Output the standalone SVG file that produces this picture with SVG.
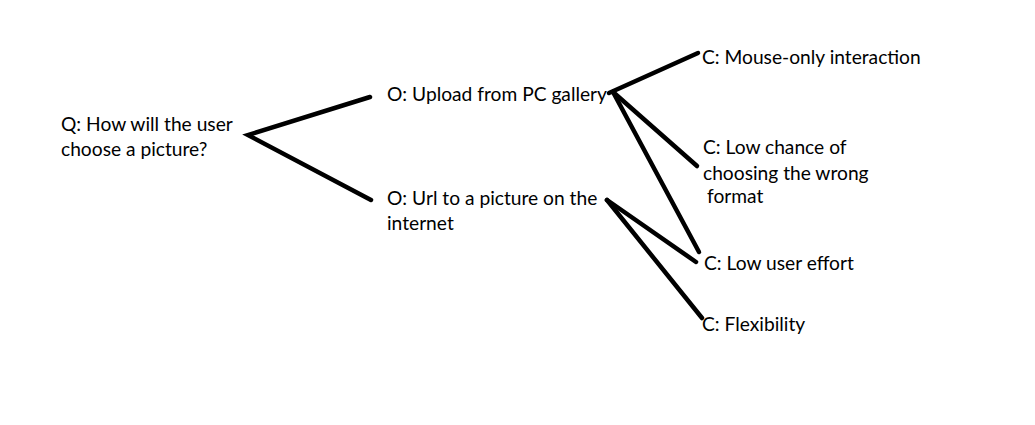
<svg xmlns="http://www.w3.org/2000/svg" width="1035" height="425" viewBox="0 0 1035 425">
<style>
text{font-family:Lato,"Open Sans","Liberation Sans",sans-serif;font-size:19.2px;fill:#000}
.c{stroke:#000;stroke-width:4.5;stroke-linecap:round;fill:none}
</style>
<rect width="1035" height="425" fill="#fff"/>
<g id="connectors">
<path class="c" d="M370,97 L248,135 L371,200"/>
<path class="c" d="M609,93 L698,53"/>
<path class="c" d="M613,92 L697,166"/>
<path class="c" d="M613,92 L699,252"/>
<path class="c" d="M607,200 L696,262"/>
<path class="c" d="M607,200 L702,318"/>
</g>
<g id="q"><text x="61" y="131">Q: How will the user</text><text x="61" y="156">choose a picture?</text></g>
<g id="o1"><text x="387" y="101">O: Upload from PC gallery</text></g>
<g id="o2"><text x="387" y="205">O: Url to a picture on the</text><text x="387" y="230">internet</text></g>
<g id="c1"><text x="702" y="64">C: Mouse-only interaction</text></g>
<g id="c2"><text x="703" y="154">C: Low chance of</text><text x="703" y="180">choosing the wrong</text><text x="707" y="203">format</text></g>
<g id="c3"><text x="704" y="270">C: Low user effort</text></g>
<g id="c4"><text x="702" y="331">C: Flexibility</text></g>
</svg>
